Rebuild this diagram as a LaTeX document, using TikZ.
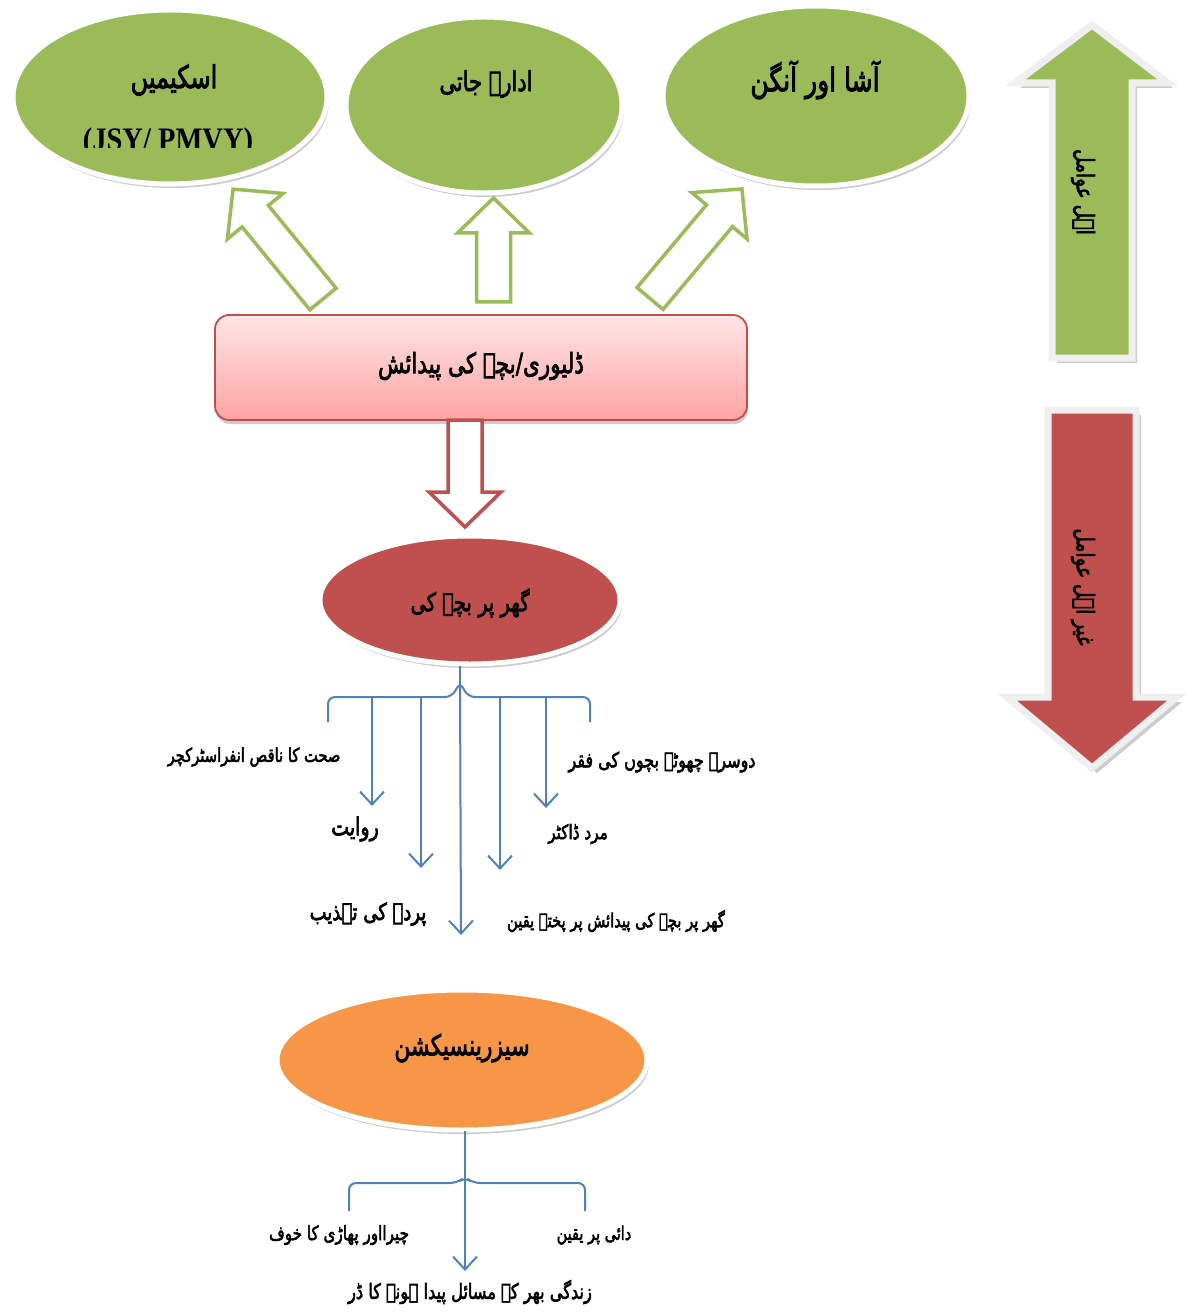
\documentclass[tikz,border=0pt]{standalone}
\usepackage{fontspec}
\usepackage{graphicx}
\usetikzlibrary{shapes.geometric,shadows,arrows.meta}
\TeXXeTstate=1
\newfontfamily\urfont[Script=Arabic,FakeBold=3]{DejaVu Sans}
\newfontfamily\latfont{Liberation Serif}
\newcommand{\urtext}[1]{\scalebox{1}[1.3]{\urfont\beginR #1\endR}}
\newcommand{\fsz}[1]{\fontsize{#1}{#1}\selectfont}

\definecolor{leafgreen}{HTML}{9BBB59}
\definecolor{brickred}{HTML}{C0504D}
\definecolor{tangerine}{HTML}{F79646}
\definecolor{steelblue}{HTML}{4F81BD}
\definecolor{blushtop}{HTML}{FFE6E6}
\definecolor{blushbot}{HTML}{FFA3A3}
\definecolor{rimgray}{HTML}{EFEFEF}

% hollow block arrow: start point, direction angle, length, style
\newcommand{\hollowarrow}[4]{%
  \begin{scope}[shift={(#1)},rotate=#2]
    \draw[#4] (0,-17) -- ({#3-35},-17) -- ({#3-35},-36) -- (#3,0)
      -- ({#3-35},36) -- ({#3-35},17) -- (0,17) -- cycle;
  \end{scope}}

\begin{document}
\begin{tikzpicture}[x=1pt,y=-1pt,
  bubble/.style={ellipse, inner sep=0pt, draw=white, line width=5pt,
    drop shadow={shadow xshift=2pt, shadow yshift=-4pt, opacity=.45, fill=black!45}},
  lbl/.style={inner sep=0pt},
  hollowgreen/.style={draw=leafgreen, line width=3.5pt, fill=white, line join=miter},
  hollowred/.style={draw=brickred, line width=3.5pt, fill=white, line join=miter},
  blueline/.style={draw=steelblue, line width=2pt},
  bluearrow/.style={blueline, -{Straight Barb[length=13pt,width=24pt]}},
  sidearrow/.style={draw=rimgray, line width=7pt, line join=miter,
    drop shadow={shadow xshift=5pt, shadow yshift=-5pt, opacity=.5, fill=black!40}}
]
\useasboundingbox (0,0) rectangle (1201,1313);

% ---- top row of access channels ----
\node[bubble, fill=leafgreen, minimum width=314pt, minimum height=174pt] (schemes) at (170,97) {};
\node[bubble, fill=leafgreen, minimum width=276pt, minimum height=176pt] (institutional) at (484,105) {};
\node[bubble, fill=leafgreen, minimum width=306pt, minimum height=180pt] (asha) at (816,96) {};

\node[lbl, font=\fsz{24}] (schemesT) at (174,80) {\urtext{اسکیمیں}};
\begin{scope}
  \clip (60,110) rectangle (280,148);
  \node[inner sep=0pt, anchor=base, font=\latfont\bfseries\fsz{28.5}] (schemesL) at (168,151) {\scalebox{1}[1.15]{(JSY/ PMVY)}};
\end{scope}
\node[lbl, font=\fsz{21}] (institutionalT) at (486,84) {\urtext{ادارہ جاتی}};
\node[lbl, font=\fsz{25}] (ashaT) at (815,80) {\urtext{آشا اور آنگن}};

% ---- delivery box ----
\node[rounded corners=14pt, draw=brickred, line width=1.8pt, top color=blushtop, bottom color=blushbot,
  minimum width=532pt, minimum height=105pt,
  drop shadow={shadow xshift=1pt, shadow yshift=-4pt, opacity=.4, fill=black!50}] (delivery) at (481,367.5) {};
\node[lbl, font=\fsz{21.5}] (deliveryT) at (481,366) {\urtext{ڈلیوری/بچے کی پیدائش}};

% hollow arrows from the box to the channels
\coordinate (a1) at (323,299);
\coordinate (a2) at (493.5,302);
\coordinate (a3) at (650,298.5);
\hollowarrow{a1}{129.3}{142}{hollowgreen}
\hollowarrow{a2}{90}{104}{hollowgreen}
\hollowarrow{a3}{50}{143}{hollowgreen}

% ---- home birth ----
\coordinate (a4) at (465,420);
\hollowarrow{a4}{-90}{107}{hollowred}
\node[bubble, fill=brickred, minimum width=300pt, minimum height=128pt] (home) at (470,600) {};
\node[lbl, font=\fsz{19.5}] (homeT) at (470,603) {\urtext{گھر پر بچے کی}};

% brace and reasons
\coordinate (peak1) at (460,682);
\draw[blueline] (460,666) -- (peak1);
\draw[blueline, rounded corners=7pt] (328,722) -- (328,697) -- (452,697) -- (peak1)
  -- (468,697) -- (590,697) -- (590,722);
\coordinate (r1) at (372,697);  \coordinate (r1e) at (372,806);
\coordinate (r2) at (421,697);  \coordinate (r2e) at (421,868);
\coordinate (r4) at (500,697);  \coordinate (r4e) at (500,870);
\coordinate (r5) at (546,697);  \coordinate (r5e) at (546,808);
\coordinate (r3e) at (461,935);
\draw[bluearrow] (r1) -- (r1e);
\draw[bluearrow] (r2) -- (r2e);
\draw[bluearrow] (peak1) -- (r3e);
\draw[bluearrow] (r4) -- (r4e);
\draw[bluearrow] (r5) -- (r5e);

\node[lbl, font=\fsz{14.7}] (infra) at (254,757) {\urtext{صحت کا ناقص انفراسٹرکچر}};
\node[lbl, font=\fsz{19}] (tradition) at (355,829) {\urtext{روایت}};
\node[lbl, font=\fsz{18}] (purdah) at (368,914) {\urtext{پردے کی تہذیب}};
\node[lbl, font=\fsz{16}] (siblings) at (662,762) {\urtext{دوسرے چھوٹے بچوں کی فقر}};
\node[lbl, font=\fsz{15.3}] (maledoc) at (578,834) {\urtext{مرد ڈاکٹر}};
\node[lbl, font=\fsz{14.7}] (belief) at (616,921) {\urtext{گھر پر بچے کی پیدائش پر پختہ یقین}};

% ---- caesarean ----
\node[bubble, fill=tangerine, minimum width=370pt, minimum height=140pt] (csec) at (462,1060) {};
\node[lbl, font=\fsz{22}] (csecT) at (462,1048) {\urtext{سیزرینسیکشن}};

\coordinate (peak2) at (465,1177);
\draw[blueline] (465,1131) -- (peak2);
\draw[blueline, rounded corners=7pt] (349,1211) -- (349,1183) -- (457,1183) -- (peak2)
  -- (473,1183) -- (585,1183) -- (585,1211);
\coordinate (c2e) at (465,1271);
\draw[bluearrow] (peak2) -- (c2e);

\node[lbl, font=\fsz{15.2}] (cutfear) at (339,1235) {\urtext{چیرااور پھاڑی کا خوف}};
\node[lbl, font=\fsz{14.5}] (dai) at (594,1235) {\urtext{دائی پر یقین}};
\node[lbl, font=\fsz{16.2}] (lifelong) at (470,1292) {\urtext{زندگی بھر کے مسائل پیدا ہونے کا ڈر}};

% ---- side arrows ----
\draw[sidearrow, fill=leafgreen] (1052,358) -- (1052,83) -- (1015,83) -- (1092,25)
  -- (1168,83) -- (1132,83) -- (1132,358) -- cycle;
\draw[sidearrow, fill=brickred] (1048,410) -- (1136,410) -- (1136,697) -- (1177,697)
  -- (1092,768) -- (1007,697) -- (1048,697) -- cycle;
\node[lbl, font=\fsz{18.5}, rotate=-90] (enabling) at (1083,192) {\urtext{اہل عوامل}};
\node[lbl, font=\fsz{18.5}, rotate=-90] (disabling) at (1083,587) {\urtext{غیر اہل عوامل}};
\end{tikzpicture}
\end{document}
